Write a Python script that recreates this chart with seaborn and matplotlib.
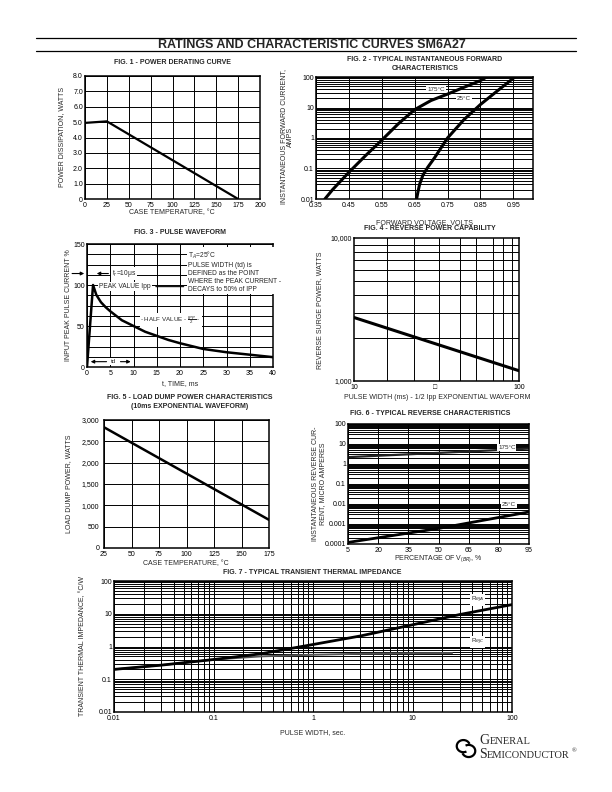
import numpy as np
import matplotlib
matplotlib.use("Agg")
import matplotlib.pyplot as plt
import seaborn as sns
from matplotlib.ticker import FixedLocator, LogLocator, NullFormatter
from matplotlib.patches import Arc

sns.set_style("white")
plt.rcParams['font.family'] = ['Liberation Sans', 'DejaVu Sans']
plt.rcParams['font.size'] = 5
plt.rcParams['mathtext.fontset'] = 'custom'
plt.rcParams['mathtext.rm'] = 'Liberation Sans'

# ---- data ----
# fig 1 power derating
f1_temp = [0, 25, 175]
f1_power = [4.95, 5.05, 0.0]

# fig 2 forward characteristics
f2_v175 = [0.377, 0.40, 0.45, 0.50, 0.55, 0.60, 0.65, 0.70, 0.75, 0.80, 0.85, 0.869]
f2_i175 = [0.01, 0.02, 0.075, 0.26, 0.85, 2.9, 8.5, 17, 27.5, 46, 76, 100]
f2_v25 = [0.656, 0.66, 0.665, 0.675, 0.69, 0.71, 0.75, 0.80, 0.85, 0.90, 0.955]
f2_i25 = [0.01, 0.017, 0.03, 0.06, 0.11, 0.22, 1.0, 4.0, 12.5, 34, 100]

# fig 3 pulse waveform
f3_t = [0, 1.3, 2, 3, 4, 5, 7.5, 10, 12.5, 15, 17.5, 20, 25, 30, 35, 40]
f3_i = [0, 100, 88, 79, 73, 68, 57, 50, 43, 38, 33, 29, 22, 18, 15, 12]

# fig 4 reverse power capability
f4_width = [10, 100]
f4_power = [2780, 1180]
f4_vgrid = [15.9, 23.2, 32.9, 43.9, 54.8, 69.2, 80.4, 90.4]

# fig 5 load dump power
f5_temp = [25, 175]
f5_power = [2830, 660]

# fig 6 reverse characteristics
f6_pct = [5, 50, 95]
f6_i175 = [2.2, 3.6, 5.9]
f6_i25 = [0.00012, 0.0006, 0.004]

# fig 7 transient thermal impedance
f7_t_ja = [0.01, 0.03, 0.1, 0.3, 1, 3, 10, 30, 100]
f7_rja = [0.2, 0.27, 0.4, 0.6, 1.15, 2.1, 4.6, 9.5, 19]
f7_t_jc = [0.01, 0.03, 0.1, 0.3, 1, 3, 10, 25]
f7_rjc = [0.2, 0.27, 0.4, 0.5, 0.56, 0.6, 0.62, 0.63]

W, H = 612, 792
fig = plt.figure(figsize=(W / 100, H / 100), dpi=100)


def P(x, y):
    return x / W, 1 - y / H


def px_axes(l, t, r, b):
    return fig.add_axes([l / W, 1 - b / H, (r - l) / W, (b - t) / H])


def style(ax):
    ax.set_axisbelow(True)
    for s in ax.spines.values():
        s.set_visible(True)
        s.set_color('black')
        s.set_linewidth(1.1)
    ax.tick_params(which='both', length=0, pad=1.5, labelsize=5, colors='black')
    ax.tick_params(axis='x', pad=2.0)


def grid(ax, which='major', axis='both'):
    ax.grid(True, which=which, axis=axis, color='black', linewidth=0.7)


def labels(ax, xl, xpos, yl, ypos):
    ax.set_xlabel(xl, fontsize=5, va='center', ha='center')
    ax.xaxis.set_label_coords(*P(*xpos), transform=fig.transFigure)
    ax.set_ylabel(yl, fontsize=5, va='center', ha='center', linespacing=1.1)
    ax.yaxis.set_label_coords(*P(*ypos), transform=fig.transFigure)


def title(txt, x, y):
    fig.text(*P(x, y), txt, fontsize=5, fontweight='bold', ha='center', va='center',
             linespacing=1.3)


def box(ax, x, y, txt, **kw):
    ax.text(x, y, txt, fontsize=4.5, ha='center', va='center',
            bbox=dict(facecolor='white', edgecolor='none', pad=0.6), **kw)


# ---- header ----
fig.add_artist(plt.Line2D([36 / W, 576 / W], [1 - 38 / H, 1 - 38 / H], color='black', lw=0.9))
fig.add_artist(plt.Line2D([36 / W, 576 / W], [1 - 51 / H, 1 - 51 / H], color='black', lw=0.9))
fig.text(*P(312, 44.5), "RATINGS AND CHARACTERISTIC CURVES SM6A27", fontsize=9,
         fontweight='bold', ha='center', va='center')

# ---- fig 1 ----
ax1 = px_axes(85, 76, 260, 199)
style(ax1)
sns.lineplot(x=f1_temp, y=f1_power, ax=ax1, color='black', linewidth=1.6)
ax1.set_xlim(0, 200)
ax1.set_ylim(0, 8)
ax1.set_xticks(np.arange(0, 201, 25))
ax1.set_yticks(np.arange(0, 9, 1))
ax1.set_yticklabels(["0"] + [f"{v:.1f}" for v in range(1, 9)])
grid(ax1)
labels(ax1, "CASE TEMPERATURE, °C", (172, 213), "POWER DISSIPATION, WATTS", (62, 137))
title("FIG. 1 - POWER DERATING CURVE", 172, 63)

# ---- fig 2 ----
ax2 = px_axes(316, 77, 533, 199)
style(ax2)
ax2.set_yscale('log')
sns.lineplot(x=f2_v175, y=f2_i175, ax=ax2, color='black', linewidth=2.2, sort=False)
sns.lineplot(x=f2_v25, y=f2_i25, ax=ax2, color='black', linewidth=2.2, sort=False)
ax2.set_xlim(0.35, 1.01)
ax2.set_ylim(0.01, 100)
ax2.set_xticks([0.35, 0.45, 0.55, 0.65, 0.75, 0.85, 0.95])
ax2.set_xticklabels(["0.35", "0.45", "0.55", "0.65", "0.75", "0.85", "0.95"])
ax2.set_yticks([0.01, 0.1, 1, 10, 100])
ax2.set_yticklabels(["0.01", "0.1", "1", "10", "100"])
ax2.yaxis.set_minor_locator(LogLocator(subs=np.arange(2, 10)))
ax2.yaxis.set_minor_formatter(NullFormatter())
grid(ax2, 'both', 'y')
grid(ax2, 'major', 'x')
box(ax2, 0.715, 40, "175°C")
box(ax2, 0.80, 19, "25°C")
labels(ax2, "FORWARD VOLTAGE, VOLTS", (425, 223),
       "INSTANTANEOUS FORWARD CURRENT,\nAMPS", (287, 137))
title("FIG. 2 - TYPICAL INSTANTANEOUS FORWARD\nCHARACTERISTICS", 425, 64)

# ---- fig 3 ----
ax3 = px_axes(87, 244, 273, 367)
style(ax3)
sns.lineplot(x=f3_t, y=f3_i, ax=ax3, color='black', linewidth=1.8, sort=False)
ax3.set_xlim(0, 40)
ax3.set_ylim(0, 150)
ax3.set_xticks(np.arange(0, 41, 5))
ax3.set_yticks([0, 50, 100, 150])
ax3.yaxis.set_minor_locator(FixedLocator(np.arange(12.5, 150, 12.5)))
grid(ax3, 'both', 'y')
grid(ax3, 'major', 'x')
ax3.text(21.8, 117, "T$_A$=25°C\nPULSE WIDTH (td) is\nDEFINED as the POINT\n"
         "WHERE the PEAK CURRENT -\nDECAYS to 50% of IPP",
         fontsize=4.8, ha='left', va='center', linespacing=1.2,
         bbox=dict(facecolor='white', edgecolor='none', pad=0.8))
ax3.text(2.6, 98, "PEAK VALUE Ipp", fontsize=4.8, ha='left', va='center',
         bbox=dict(facecolor='white', edgecolor='none', pad=0.6))
ax3.annotate("", xy=(21.4, 98), xytext=(14.2, 98),
             arrowprops=dict(arrowstyle='-', color='black', lw=0.8))
ax3.annotate("", xy=(0, 114), xytext=(-3.8, 114), annotation_clip=False,
             arrowprops=dict(arrowstyle='-|>', color='black', lw=0.8, mutation_scale=5))
ax3.annotate("", xy=(1.5, 114), xytext=(5.2, 114),
             arrowprops=dict(arrowstyle='-|>', color='black', lw=0.8, mutation_scale=5))
ax3.text(5.4, 114, "t$_r$=10μs", fontsize=4.8, ha='left', va='center',
         bbox=dict(facecolor='white', edgecolor='none', pad=0.6))
box(ax3, 18, 57, "- HALF VALUE - $\\frac{IPP}{2}$ -")
ax3.annotate("", xy=(0.2, 6.5), xytext=(4.8, 6.5),
             arrowprops=dict(arrowstyle='-|>', color='black', lw=0.8, mutation_scale=5))
ax3.annotate("", xy=(10, 6.5), xytext=(6.6, 6.5),
             arrowprops=dict(arrowstyle='-|>', color='black', lw=0.8, mutation_scale=5))
box(ax3, 5.7, 6.5, "td")
labels(ax3, "t, TIME, ms", (180, 384), "INPUT PEAK PULSE CURRENT %", (69, 305))
title("FIG. 3 - PULSE WAVEFORM", 180, 233)

# ---- fig 4 ----
ax4 = px_axes(354, 238, 519, 381)
style(ax4)
ax4.set_xscale('log')
ax4.set_yscale('log')
sns.lineplot(x=f4_width, y=f4_power, ax=ax4, color='black', linewidth=2.2)
ax4.set_xlim(10, 100)
ax4.set_ylim(1000, 10000)
ax4.xaxis.set_major_locator(FixedLocator([10, 31, 100]))
ax4.set_xticklabels(["10", "□", "100"])
ax4.xaxis.set_minor_locator(FixedLocator(f4_vgrid))
ax4.xaxis.set_minor_formatter(NullFormatter())
ax4.yaxis.set_major_locator(FixedLocator([1000, 10000]))
ax4.set_yticklabels(["1,000", "10,000"])
ax4.yaxis.set_minor_locator(LogLocator(subs=np.arange(2, 10)))
ax4.yaxis.set_minor_formatter(NullFormatter())
grid(ax4, 'minor', 'both')
labels(ax4, "PULSE WIDTH (ms) - 1/2 Ipp EXPONENTIAL WAVEFORM", (437, 398),
       "REVERSE SURGE POWER, WATTS", (320, 310))
title("FIG. 4 - REVERSE POWER CAPABILITY", 430, 229)

# ---- fig 5 ----
ax5 = px_axes(104, 420, 269, 548)
style(ax5)
ax5.tick_params(axis='y', pad=3.5)
sns.lineplot(x=f5_temp, y=f5_power, ax=ax5, color='black', linewidth=1.8)
ax5.set_xlim(25, 175)
ax5.set_ylim(0, 3000)
ax5.set_xticks(np.arange(25, 176, 25))
ax5.set_yticks(np.arange(0, 3001, 500))
ax5.set_yticklabels(["0", "500", "1,000", "1,500", "2,000", "2,500", "3,000"])
grid(ax5)
labels(ax5, "CASE TEMPERATURE, °C", (186, 564), "LOAD DUMP POWER, WATTS", (69, 484))
title("FIG. 5 - LOAD DUMP POWER CHARACTERISTICS\n(10ms EXPONENTIAL WAVEFORM)", 190, 402)

# ---- fig 6 ----
ax6 = px_axes(348, 424, 529, 544)
style(ax6)
ax6.set_yscale('log')
sns.lineplot(x=f6_pct, y=f6_i175, ax=ax6, color='#222222', linewidth=1.6)
sns.lineplot(x=f6_pct, y=f6_i25, ax=ax6, color='black', linewidth=2.0)
ax6.set_xlim(5, 95)
ax6.set_ylim(0.0001, 100)
ax6.set_xticks(np.arange(5, 96, 15))
ax6.set_yticks([0.0001, 0.001, 0.01, 0.1, 1, 10, 100])
ax6.set_yticklabels(["0.0001", "0.001", "0.01", "0.1", "1", "10", "100"])
ax6.yaxis.set_minor_locator(LogLocator(subs=np.arange(2, 10)))
ax6.yaxis.set_minor_formatter(NullFormatter())
grid(ax6, 'both', 'y')
grid(ax6, 'major', 'x')
box(ax6, 84, 6.5, "175°C")
box(ax6, 85, 0.009, "25°C")
labels(ax6, "PERCENTAGE OF V$_{(BR)}$, %", (438, 559),
       "INSTANTANEOUS REVERSE CUR-\nRENT, MICRO AMPERES", (319, 484))
title("FIG. 6 - TYPICAL REVERSE CHARACTERISTICS", 430, 413)

# ---- fig 7 ----
ax7 = px_axes(114, 581, 512, 712)
style(ax7)
ax7.set_xscale('log')
ax7.set_yscale('log')
sns.lineplot(x=f7_t_jc, y=f7_rjc, ax=ax7, color='#555555', linewidth=1.4)
sns.lineplot(x=f7_t_ja, y=f7_rja, ax=ax7, color='black', linewidth=2.0)
ax7.set_xlim(0.01, 100)
ax7.set_ylim(0.01, 100)
ax7.set_xticks([0.01, 0.1, 1, 10, 100])
ax7.set_xticklabels(["0.01", "0.1", "1", "10", "100"])
ax7.set_yticks([0.01, 0.1, 1, 10, 100])
ax7.set_yticklabels(["0.01", "0.1", "1", "10", "100"])
for axis in (ax7.xaxis, ax7.yaxis):
    axis.set_minor_locator(LogLocator(subs=np.arange(2, 10)))
    axis.set_minor_formatter(NullFormatter())
grid(ax7, 'both', 'both')
box(ax7, 45, 26, "R$_{θJA}$")
box(ax7, 45, 1.4, "R$_{θJC}$")
labels(ax7, "PULSE WIDTH, sec.", (313, 733), "TRANSIENT THERMAL IMPEDANCE, °C/W", (83, 646))
title("FIG. 7 - TYPICAL TRANSIENT THERMAL IMPEDANCE", 312, 573)

# ---- logo ----
lax = fig.add_axes([455 / W, 1 - 762 / H, 22 / W, 28 / H])
lax.set_xlim(0, 1)
lax.set_ylim(0, 1.27)
lax.axis('off')
lax.add_patch(Arc((0.38, 0.72), 0.6, 0.55, theta1=20, theta2=300, color='black', lw=1.6))
lax.add_patch(Arc((0.62, 0.5), 0.6, 0.55, theta1=200, theta2=120, color='black', lw=1.6))
serif = ['Liberation Serif', 'DejaVu Serif']
fig.text(*P(479, 741), "G", fontsize=10, family=serif, ha='left', va='center')
fig.text(*P(489.5, 742), "ENERAL", fontsize=7.5, family=serif, ha='left', va='center')
fig.text(*P(479, 755), "S", fontsize=10, family=serif, ha='left', va='center')
fig.text(*P(487, 756), "EMICONDUCTOR", fontsize=7.5, family=serif, ha='left', va='center')
fig.text(*P(572, 751), "®", fontsize=4.5, family=serif, ha='left', va='center')

fig.savefig("out.png", dpi=100)
